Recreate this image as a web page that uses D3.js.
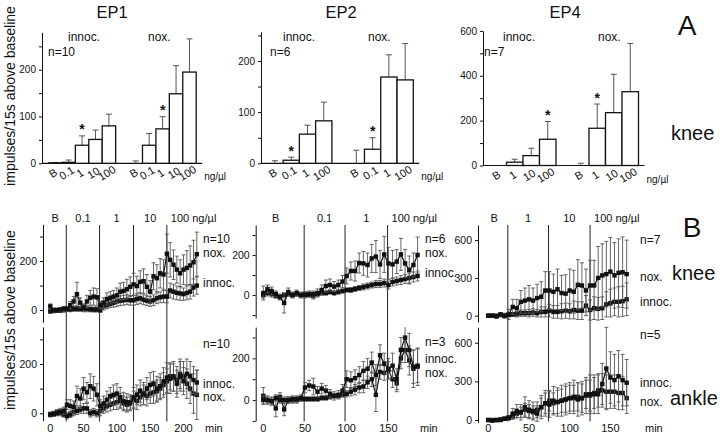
<!DOCTYPE html>
<html><head><meta charset="utf-8">
<script src="https://cdn.jsdelivr.net/npm/d3@7"></script>
<style>
body{margin:0;background:#fff}
svg{display:block}
text{font-family:"Liberation Sans",Arial,Helvetica,sans-serif;fill:#111}
</style>
</head><body>
<svg id="c" width="720" height="441"></svg>
<script>
// ---------------- DATA ----------------
// Panel A: bar charts (mean, SEM, significance)
const ep1Doses = ["B","0.1","1","10","100"];
const ep1InnocBar = [1, 2, 38.6, 51, 80];
const ep1InnocBarErr = [1, 5, 20, 20, 25];
const ep1InnocStar = [0, 0, 1, 0, 0];
const ep1NoxBar = [0, 38.6, 73.6, 148.6, 195];
const ep1NoxBarErr = [5, 25, 26, 60, 71];
const ep1NoxStar = [0, 0, 1, 0, 0];

const ep2Doses = ["B","0.1","1","100"];
const ep2InnocBar = [0, 6, 57, 83];
const ep2InnocBarErr = [5, 6, 17.5, 36.6];
const ep2InnocStar = [0, 1, 0, 0];
const ep2NoxBar = [0, 27.5, 168.6, 163];
const ep2NoxBarErr = [25.5, 22.5, 43.4, 71];
const ep2NoxStar = [0, 1, 0, 0];

const ep4Doses = ["B","1","10","100"];
const ep4InnocBar = [0, 14.8, 44, 117];
const ep4InnocBarErr = [0, 13, 33, 79];
const ep4InnocStar = [0, 0, 0, 1];
const ep4NoxBar = [0, 166, 235.6, 329];
const ep4NoxBarErr = [10, 108, 171, 215];
const ep4NoxStar = [0, 1, 0, 0];

// Panel B: time courses, one value every 5 min from t = 0
const timeStep = 5;
const ep1DoseLabels = ["B","0.1","1","10","100 ng/µl"];
const ep1DoseTimes = [24, 74, 125, 175];
const ep1KneeNox = [15,0,0,2,5,5,20,35,65,30,10,35,50,55,52,20,30,45,50,55,60,75,78,85,95,105,98,115,118,95,75,138,130,150,145,230,205,185,165,150,165,172,182,195,228];
const ep1KneeNoxErr = [10,8,8,8,10,10,15,20,48,20,15,25,30,35,35,15,20,25,25,25,30,35,35,40,40,45,40,45,50,50,45,55,55,60,60,80,70,60,55,55,60,70,80,90,90];
const ep1KneeInnoc = [-5,-4,-3,-2,0,2,3,5,5,5,5,5,3,2,2,0,15,20,25,30,35,38,40,42,40,40,45,48,42,38,35,40,48,52,55,55,80,75,70,68,65,70,75,92,100];
const ep1KneeInnocErr = [8,6,6,6,8,8,10,10,10,10,12,12,10,10,10,10,15,15,15,18,20,20,20,20,20,20,22,22,20,20,20,22,22,22,25,25,30,30,28,28,25,28,30,35,35];
const ep1AnkleInnoc = [-5,-3,0,5,10,35,30,25,70,60,100,85,110,100,75,30,40,55,70,75,80,65,50,45,40,65,75,90,80,100,115,120,100,110,130,145,140,150,120,150,130,160,150,135,125];
const ep1AnkleInnocErr = [10,10,10,15,15,20,25,25,40,40,45,40,50,50,45,25,30,35,35,40,40,40,35,35,30,40,40,45,45,45,50,50,50,50,55,60,60,60,55,60,55,60,60,55,50];
const ep1AnkleNox = [-5,0,5,5,-5,-10,-5,5,10,15,20,20,0,5,0,10,20,30,35,40,45,50,40,35,45,55,50,65,75,70,80,85,90,100,115,130,150,145,135,160,150,120,100,80,75];
const ep1AnkleNoxErr = [8,8,10,10,10,12,12,15,15,15,20,20,15,15,15,20,20,25,25,25,30,30,30,30,30,35,35,35,40,40,40,45,45,45,50,50,55,55,55,60,60,60,60,80,100];

const ep2DoseLabels = ["B","0.1","1","100 ng/µl"];
const ep2DoseTimes = [49, 98, 149];
const ep2KneeNox = [10,30,20,5,-10,-40,15,0,10,0,0,5,5,10,25,45,50,42,50,67,95,120,120,160,158,150,183,192,153,203,158,153,167,203,158,125,150,200];
const ep2KneeNoxErr = [35,20,20,15,15,50,20,15,15,15,15,15,15,20,25,30,30,25,25,30,40,45,50,50,60,60,70,80,70,90,80,70,60,80,70,70,60,90];
const ep2KneeInnoc = [0,10,5,-5,-10,0,5,0,5,0,5,0,-5,5,10,10,15,10,15,20,25,25,30,35,40,45,50,55,55,60,50,65,70,75,80,85,90,95];
const ep2KneeInnocErr = [15,15,15,10,10,10,10,10,10,10,10,10,15,10,10,10,10,10,10,10,10,12,12,12,15,15,15,18,18,20,20,20,20,22,22,25,25,25];
const ep2AnkleInnoc = [0,0,-5,10,0,0,0,5,5,10,60,70,65,40,55,45,30,20,25,45,100,95,105,120,140,150,180,120,215,175,150,165,100,240,300,240,160,165];
const ep2AnkleInnocErr = [20,15,15,15,15,15,15,15,15,15,25,25,40,25,25,25,20,20,20,30,40,40,40,40,45,50,50,50,50,50,50,60,50,60,70,80,80,80];
const ep2AnkleNox = [20,0,-5,-40,15,-45,0,0,0,5,5,5,5,5,10,10,15,20,20,25,30,40,50,60,65,85,100,25,135,130,145,100,80,200,240,190,150,160];
const ep2AnkleNoxErr = [40,20,20,40,20,30,15,15,15,10,10,10,10,10,10,10,10,10,10,10,15,20,25,25,30,30,35,80,35,35,40,40,40,50,60,70,90,90];

const ep4DoseLabels = ["B","1","10","100 ng/µl"];
const ep4DoseTimes = [24, 74, 125];
const ep4KneeNox = [0,0,-5,10,0,10,70,60,110,120,130,120,140,150,200,200,190,210,180,175,200,190,245,240,200,240,240,300,320,330,350,320,340,345,330];
const ep4KneeNoxErr = [10,10,15,15,20,40,60,70,90,100,110,100,110,120,150,150,140,160,140,150,170,170,200,180,170,200,200,250,250,260,270,260,270,280,270];
const ep4KneeInnoc = [0,0,0,5,0,5,10,15,20,20,20,25,20,30,30,40,30,30,35,40,35,45,40,40,80,45,60,55,60,90,100,110,110,115,130];
const ep4KneeInnocErr = [5,5,5,8,8,10,15,20,25,25,30,30,30,40,40,50,50,50,60,60,60,70,70,70,80,80,90,90,90,100,110,110,120,120,130];
const ep4AnkleInnoc = [0,-5,0,0,10,15,50,70,60,100,80,70,50,100,130,120,150,140,150,160,170,180,160,170,190,200,200,200,280,400,330,310,340,310,290];
const ep4AnkleInnocErr = [5,5,5,8,10,15,40,50,60,80,70,70,60,90,100,100,110,110,120,120,120,130,130,130,140,150,150,150,160,320,200,200,200,200,180];
const ep4AnkleNox = [0,0,0,5,10,20,30,50,60,80,70,60,80,100,130,150,130,140,150,160,170,170,180,170,200,190,210,230,230,220,220,220,210,210,170];
const ep4AnkleNoxErr = [5,5,5,8,10,15,25,35,40,50,50,50,60,70,80,80,80,90,90,100,100,100,110,110,110,120,120,130,130,130,130,130,130,130,120];

// ---------------- DRAWING ----------------
const svg = d3.select("#c");

function txt(x, y, s, size, anchor, extra) {
  const t = svg.append("text").attr("x", x).attr("y", y).attr("font-size", size)
    .attr("text-anchor", anchor || "start").text(s);
  if (extra) extra(t);
  return t;
}

function barPanel(c) {
  const g = svg.append("g");
  const keys = c.doses.map(d => "i" + d).concat(["gap"], c.doses.map(d => "n" + d));
  const x = d3.scaleBand().domain(keys).range(c.xRange).padding(0);
  const y = d3.scaleLinear().domain([0, c.yMax]).range(c.yRange);
  const ax = d3.axisLeft(y).tickValues(d3.range(0, c.yMax + 1, c.tickStep))
    .tickFormat(d => d % c.labelStep === 0 ? d : "").tickSize(3).tickSizeOuter(0);
  const ag = g.append("g").attr("transform", `translate(${c.axisX},0)`).call(ax);
  ag.selectAll("path,line").attr("stroke", "#111").attr("stroke-width", 1);
  ag.selectAll("text").attr("font-size", 10).attr("font-family", '"Liberation Sans",Arial,sans-serif').attr("fill", "#111");
  g.append("line").attr("x1", c.axisX).attr("x2", c.xRange[1] + 6)
    .attr("y1", y(0)).attr("y2", y(0)).attr("stroke", "#111").attr("stroke-width", 1.2);

  const groups = [["i", c.innoc, c.innocErr, c.innocStar], ["n", c.nox, c.noxErr, c.noxStar]];
  groups.forEach(([p, vals, errs, stars]) => {
    c.doses.forEach((d, i) => {
      const k = p + d, bx = x(k), bw = x.bandwidth(), cx = bx + bw / 2;
      const v = vals[i], e = errs[i];
      if (e > 0) {
        g.append("line").attr("x1", cx).attr("x2", cx).attr("y1", y(v)).attr("y2", y(v + e))
          .attr("stroke", "#555").attr("stroke-width", 1);
        g.append("line").attr("x1", cx - 3).attr("x2", cx + 3).attr("y1", y(v + e)).attr("y2", y(v + e))
          .attr("stroke", "#555").attr("stroke-width", 1);
      }
      g.append("rect").attr("x", bx).attr("width", bw).attr("y", y(v)).attr("height", Math.max(0, y(0) - y(v)))
        .attr("fill", "#fff").attr("stroke", "#111").attr("stroke-width", 1.3);
      if (stars[i]) txt(cx, y(v + e) - 1.5, "*", 14, "middle", t => t.attr("font-weight", "bold"));
      txt(cx, y(0) + 13, d, 11, "middle", t => t.attr("transform", `rotate(-32,${cx},${y(0) + 13})`));
    });
  });
  txt(c.xRange[1] + 8, y(0) + 17, "ng/µl", 10, "start");
  txt(c.axisX + 26 + c.innocDx, 41, "innoc.", 12, "start");
  txt(c.noxX, 41, "nox.", 12, "start");
  txt(c.nX, 56, c.n, 12, "start");
  txt(c.titleX, 18, c.title, 16.5, "middle");
}

barPanel({title: "EP1", titleX: 112, doses: ep1Doses, innoc: ep1InnocBar, innocErr: ep1InnocBarErr, innocStar: ep1InnocStar,
  nox: ep1NoxBar, noxErr: ep1NoxBarErr, noxStar: ep1NoxStar, yMax: 280, yRange: [163.3, 32.3], tickStep: 50, labelStep: 100,
  xRange: [48.5, 196.2], axisX: 42, innocDx: 0, noxX: 148, nX: 48, n: "n=10"});
barPanel({title: "EP2", titleX: 341, doses: ep2Doses, innoc: ep2InnocBar, innocErr: ep2InnocBarErr, innocStar: ep2InnocStar,
  nox: ep2NoxBar, noxErr: ep2NoxBarErr, noxStar: ep2NoxStar, yMax: 257, yRange: [163.3, 31.8], tickStep: 50, labelStep: 100,
  xRange: [266.8, 413.3], axisX: 261, innocDx: -4, noxX: 368, nX: 270, n: "n=6"});
barPanel({title: "EP4", titleX: 565, doses: ep4Doses, innoc: ep4InnocBar, innocErr: ep4InnocBarErr, innocStar: ep4InnocStar,
  nox: ep4NoxBar, noxErr: ep4NoxBarErr, noxStar: ep4NoxStar, yMax: 600, yRange: [165.5, 30.9], tickStep: 100, labelStep: 200,
  xRange: [490, 638.5], axisX: 483, innocDx: -6, noxX: 598, nX: 484, n: "n=7"});

function timeSub(g, x, y, series, axisX, ticks, labelEvery) {
  const ax = d3.axisLeft(y).tickValues(ticks).tickFormat(d => d % labelEvery === 0 ? d : "").tickSize(3).tickSizeOuter(0);
  const ag = g.append("g").attr("transform", `translate(${axisX},0)`).call(ax);
  ag.selectAll("path,line").attr("stroke", "#111").attr("stroke-width", 1);
  ag.selectAll("text").attr("font-size", 10.5).attr("font-family", '"Liberation Sans",Arial,sans-serif').attr("fill", "#111");
  const [d0, d1] = y.domain();
  series.forEach(([vals, errs]) => {
    const pts = vals.map((v, i) => ({t: i * timeStep, v, e: errs[i]}));
    pts.forEach(p => {
      const lo = Math.max(d0, p.v - p.e), hi = Math.min(d1, p.v + p.e);
      const cx = x(p.t);
      g.append("line").attr("x1", cx).attr("x2", cx).attr("y1", y(lo)).attr("y2", y(hi))
        .attr("stroke", "#555").attr("stroke-width", 0.9);
      [lo, hi].forEach(b => {
        if (b === p.v - p.e || b === p.v + p.e)
          g.append("line").attr("x1", cx - 2).attr("x2", cx + 2).attr("y1", y(b)).attr("y2", y(b))
            .attr("stroke", "#555").attr("stroke-width", 0.9);
      });
    });
    g.append("path").datum(pts).attr("fill", "none").attr("stroke", "#111").attr("stroke-width", 1.2)
      .attr("d", d3.line().x(p => x(p.t)).y(p => y(p.v)));
    g.selectAll(null).data(pts).enter().append("rect")
      .attr("x", p => x(p.t) - 2.2).attr("y", p => y(p.v) - 2.2).attr("width", 4.4).attr("height", 4.4).attr("fill", "#111");
  });
}

function timePanel(c) {
  const g = svg.append("g");
  const x = d3.scaleLinear().domain([0, 50]).range(c.xPx);
  const yK = d3.scaleLinear().domain(c.kneeDom).range(c.kneeRange);
  const yA = d3.scaleLinear().domain(c.ankleDom).range(c.ankleRange);
  // dose change lines
  c.doseTimes.forEach(t => g.append("line").attr("x1", x(t)).attr("x2", x(t)).attr("y1", 225).attr("y2", 421.5)
    .attr("stroke", "#222").attr("stroke-width", 1));
  // dose labels
  const bounds = [0].concat(c.doseTimes);
  c.doseLabels.forEach((s, i) => {
    if (i === 0) txt(x(0) + (x(c.doseTimes[0]) - x(0)) * 0.3, 222, s, 11, "middle");
    else if (i === c.doseLabels.length - 1) txt(x(bounds[i]) + 4, 222, s, 11, "start");
    else txt((x(bounds[i]) + x(bounds[i + 1])) / 2, 222, s, 11, "middle");
  });
  timeSub(g, x, yK, c.knee, c.axisX, c.ticksK, c.labelEvery);
  timeSub(g, x, yA, c.ankle, c.axisX, c.ticksA, c.labelEvery);
  // x tick labels
  c.xTicks.forEach(t => txt(x(t), 432, String(t), 11, "middle"));
  txt(c.minX, 432, "min", 11, "start");
  c.labels.forEach(([s, lx, ly]) => txt(lx, ly, s, 12, "start"));
}

timePanel({xPx: [50.3, 83.6], kneeDom: [-50, 350], kneeRange: [322.3, 224.3], ankleDom: [-30, 350], ankleRange: [420.7, 327],
  axisX: 43, ticksK: [0, 100, 200, 300], ticksA: [0, 100, 200, 300], labelEvery: 200,
  doseTimes: ep1DoseTimes, doseLabels: ep1DoseLabels,
  knee: [[ep1KneeInnoc, ep1KneeInnocErr], [ep1KneeNox, ep1KneeNoxErr]],
  ankle: [[ep1AnkleNox, ep1AnkleNoxErr], [ep1AnkleInnoc, ep1AnkleInnocErr]],
  xTicks: [0, 50, 100, 150, 200], minX: 205,
  labels: [["n=10", 203, 243], ["nox.", 203, 257], ["innoc.", 203, 287], ["n=10", 203, 348], ["innoc.", 203, 388], ["nox.", 203, 401]]});
timePanel({xPx: [263.3, 305], kneeDom: [-115, 350], kneeRange: [318, 225], ankleDom: [-100, 350], ankleRange: [420.9, 327.1],
  axisX: 255.7, ticksK: [-100, 0, 100, 200, 300], ticksA: [-100, 0, 100, 200, 300], labelEvery: 200,
  doseTimes: ep2DoseTimes, doseLabels: ep2DoseLabels,
  knee: [[ep2KneeInnoc, ep2KneeInnocErr], [ep2KneeNox, ep2KneeNoxErr]],
  ankle: [[ep2AnkleNox, ep2AnkleNoxErr], [ep2AnkleInnoc, ep2AnkleInnocErr]],
  xTicks: [0, 50, 100, 150], minX: 420,
  labels: [["n=6", 425, 243], ["nox.", 425, 257], ["innoc.", 425, 277], ["n=3", 425, 346], ["innoc.", 425, 363], ["nox.", 425, 377]]});
timePanel({xPx: [488.3, 529], kneeDom: [-50, 720], kneeRange: [322, 225], ankleDom: [-20, 720], ankleRange: [422.6, 327.3],
  axisX: 478, ticksK: [0, 300, 600], ticksA: [0, 300, 600], labelEvery: 300,
  doseTimes: ep4DoseTimes, doseLabels: ep4DoseLabels,
  knee: [[ep4KneeInnoc, ep4KneeInnocErr], [ep4KneeNox, ep4KneeNoxErr]],
  ankle: [[ep4AnkleNox, ep4AnkleNoxErr], [ep4AnkleInnoc, ep4AnkleInnocErr]],
  xTicks: [0, 50, 100, 150], minX: 645,
  labels: [["n=7", 640, 244], ["nox.", 640, 281], ["innoc.", 640, 306], ["n=5", 640, 339], ["innoc.", 640, 387], ["nox.", 640, 406]]});

// big labels and axis titles
txt(687, 35, "A", 28, "middle");
txt(692, 237, "B", 28, "middle");
txt(671, 140, "knee", 20, "start");
txt(672, 280, "knee", 20, "start");
txt(670, 405, "ankle", 20, "start");
txt(15, 96, "impulses/15s above baseline", 14, "middle", t => t.attr("transform", "rotate(-90,15,96)"));
txt(15, 320, "impulses/15s above baseline", 14, "middle", t => t.attr("transform", "rotate(-90,15,320)"));
</script>
</body></html>
